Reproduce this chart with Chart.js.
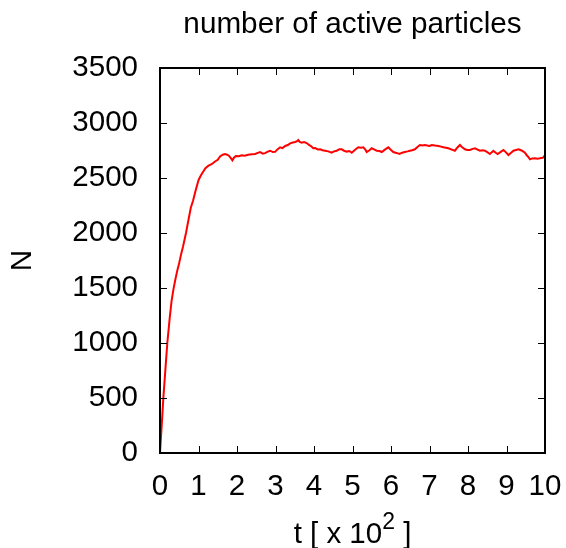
<!DOCTYPE html>
<html>
<head>
<meta charset="utf-8">
<script src="https://cdn.jsdelivr.net/npm/chart.js@4.4.0/dist/chart.umd.min.js"></script>
<style>
  html, body { margin: 0; padding: 0; background: #fff; }
  #wrap { width: 566px; height: 548px; }
</style>
</head>
<body>
<div id="wrap"><canvas id="particlesChart" width="566" height="548"></canvas></div>
<script>
// t in units of 10^2, N = number of active particles
const timeValues = [
  0, 0.03, 0.06, 0.087, 0.14, 0.19, 0.25, 0.3, 0.35, 0.4,
  0.45, 0.5, 0.55, 0.6, 0.675, 0.74, 0.8, 0.86, 0.92, 1.0,
  1.05, 1.1, 1.18, 1.26, 1.34, 1.43, 1.5, 1.56, 1.63, 1.69,
  1.74, 1.79, 1.84, 1.88, 1.92, 1.97, 2.05, 2.12, 2.2, 2.29,
  2.38, 2.47, 2.54, 2.6, 2.67, 2.73, 2.8, 2.86, 2.93, 2.99,
  3.05, 3.12, 3.18, 3.25, 3.32, 3.38, 3.45, 3.51, 3.56, 3.59,
  3.63, 3.68, 3.74, 3.81, 3.87, 3.92, 3.98, 4.03, 4.1, 4.16,
  4.22, 4.29, 4.37, 4.46, 4.52, 4.59, 4.66, 4.72, 4.78, 4.85,
  4.92, 4.98, 5.06, 5.15, 5.22, 5.28, 5.33, 5.37, 5.44, 5.5,
  5.56, 5.63, 5.7, 5.76, 5.85, 5.93, 6.0, 6.06, 6.14, 6.22,
  6.29, 6.36, 6.43, 6.49, 6.55, 6.62, 6.68, 6.75, 6.82, 6.88,
  6.94, 7.0, 7.06, 7.14, 7.23, 7.3, 7.36, 7.43, 7.49, 7.58,
  7.66, 7.72, 7.79, 7.85, 7.92, 7.98, 8.05, 8.12, 8.18, 8.25,
  8.31, 8.38, 8.44, 8.5, 8.57, 8.62, 8.66, 8.72, 8.77, 8.85,
  8.92, 8.98, 9.05, 9.12, 9.18, 9.25, 9.31, 9.38, 9.44, 9.49,
  9.52, 9.57, 9.61, 9.67, 9.74, 9.8, 9.87, 9.93, 9.96, 10.0
];
const activeCounts = [
  0, 170, 340, 500, 760, 1000, 1220, 1380, 1490, 1580,
  1660, 1730, 1810, 1880, 2000, 2120, 2230, 2295, 2380, 2480,
  2515, 2545, 2590, 2612, 2625, 2650, 2665, 2695, 2712, 2718,
  2712, 2703, 2680, 2660, 2685, 2700, 2698, 2706, 2702, 2712,
  2716, 2718, 2728, 2736, 2722, 2726, 2740, 2748, 2736, 2738,
  2760, 2779, 2772, 2791, 2800, 2815, 2822, 2827, 2835, 2845,
  2828, 2821, 2826, 2818, 2800, 2791, 2770, 2772, 2760, 2761,
  2752, 2748, 2742, 2730, 2742, 2748, 2762, 2761, 2748, 2740,
  2745, 2730, 2755, 2779, 2775, 2779, 2760, 2736, 2752, 2770,
  2760, 2748, 2745, 2736, 2760, 2779, 2755, 2736, 2728, 2718,
  2730, 2736, 2742, 2748, 2752, 2761, 2780, 2800, 2796, 2800,
  2795, 2791, 2800, 2795, 2791, 2785, 2779, 2775, 2770, 2758,
  2748, 2775, 2800, 2780, 2761, 2755, 2755, 2765, 2770, 2758,
  2748, 2752, 2748, 2735, 2718, 2735, 2748, 2730, 2718, 2738,
  2755, 2735, 2709, 2730, 2748, 2755, 2761, 2752, 2740, 2725,
  2709, 2690, 2670, 2678, 2679, 2676, 2679, 2684, 2688, 2709
];
const xTicks = [0, 1, 2, 3, 4, 5, 6, 7, 8, 9, 10];
const yTicks = [0, 500, 1000, 1500, 2000, 2500, 3000, 3500];

const FONT = '"Liberation Sans", Arial, sans-serif';

// gnuplot style frame: box + inward ticks on all four sides
const frameTicks = {
  id: 'frameTicks',
  afterDatasetsDraw(chart) {
    const {ctx, chartArea: a, scales: {x, y}} = chart;
    ctx.save();
    ctx.strokeStyle = '#000';
    ctx.lineWidth = 1;
    ctx.beginPath();
    x.ticks.forEach(t => {
      const px = Math.round(x.getPixelForValue(t.value)) + 0.5;
      ctx.moveTo(px, a.bottom); ctx.lineTo(px, a.bottom - 7);
      ctx.moveTo(px, a.top); ctx.lineTo(px, a.top + 7);
    });
    y.ticks.forEach(t => {
      const py = Math.round(y.getPixelForValue(t.value)) + 0.5;
      ctx.moveTo(a.left, py); ctx.lineTo(a.left + 7, py);
      ctx.moveTo(a.right, py); ctx.lineTo(a.right - 7, py);
    });
    ctx.stroke();
    ctx.lineWidth = 2;
    ctx.strokeRect(a.left, a.top, a.right - a.left, a.bottom - a.top);
    ctx.restore();
  }
};

// title and x axis title (with a real superscript), centred on the plot
const texts = {
  id: 'texts',
  afterDraw(chart) {
    const {ctx, chartArea: a} = chart;
    const cx = (a.left + a.right) / 2;
    ctx.save();
    ctx.fillStyle = '#000';
    ctx.textBaseline = 'alphabetic';
    ctx.textAlign = 'center';
    ctx.font = '29.7px ' + FONT;
    ctx.fillText('number of active particles', cx, 33);

    const base = 543;
    ctx.textAlign = 'left';
    const big = '29.5px ' + FONT, small = '23px ' + FONT;
    ctx.font = big;
    const w1 = ctx.measureText('t [ x 10').width;
    const w3 = ctx.measureText(' ]').width;
    ctx.font = small;
    const w2 = ctx.measureText('2').width;
    const x0 = cx - (w1 + w2 + w3) / 2;
    ctx.font = big;
    ctx.fillText('t [ x 10', x0, base);
    ctx.font = small;
    ctx.fillText('2', x0 + w1, base - 14);
    ctx.font = big;
    ctx.fillText(' ]', x0 + w1 + w2, base);
    ctx.restore();
  }
};

const ctx = document.getElementById('particlesChart').getContext('2d');
const particlesChart = new Chart(ctx, {
  type: 'line',
  data: {
    datasets: [{
      data: timeValues.map((t, i) => ({x: t, y: activeCounts[i]})),
      borderColor: '#ff0000',
      borderWidth: 2,
      pointRadius: 0,
      tension: 0,
      fill: false
    }]
  },
  options: {
    responsive: false,
    animation: false,
    layout: { padding: { left: 0, right: 21, top: 68, bottom: 0 } },
    plugins: {
      legend: { display: false },
      tooltip: { enabled: false },
      title: { display: false }
    },
    scales: {
      x: {
        type: 'linear',
        min: 0,
        max: 10,
        grid: { display: false, drawTicks: false },
        border: { display: false },
        afterBuildTicks: s => { s.ticks = xTicks.map(v => ({value: v})); },
        afterFit: s => { s.height = 95; s.paddingLeft = 0; s.paddingRight = 0; },
        ticks: {
          color: '#000',
          padding: 16,
          maxRotation: 0,
          callback: v => String(v),
          font: { family: FONT, size: 29.5 }
        }
      },
      y: {
        min: 0,
        max: 3500,
        grid: { display: false, drawTicks: false },
        border: { display: false },
        afterBuildTicks: s => { s.ticks = yTicks.map(v => ({value: v})); },
        afterFit: s => { s.width = 160; s.paddingTop = 0; s.paddingBottom = 0; },
        ticks: {
          color: '#000',
          padding: 22,
          callback: v => String(v),
          font: { family: FONT, size: 29.5 }
        },
        title: {
          display: true,
          text: 'N',
          color: '#000',
          font: { family: FONT, size: 29.5 },
          padding: { top: 5, bottom: 0 }
        }
      }
    }
  },
  plugins: [frameTicks, texts]
});
</script>
</body>
</html>
